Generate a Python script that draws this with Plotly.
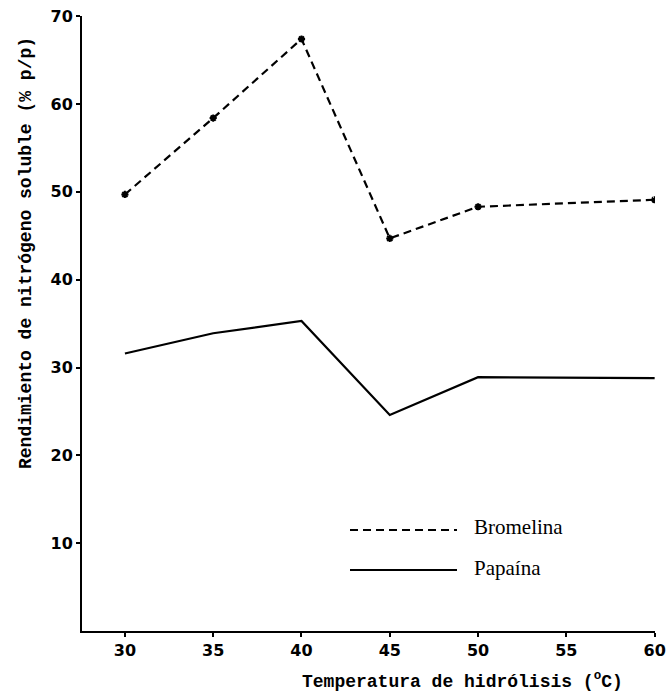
import plotly.graph_objects as go

temperatura = [30, 35, 40, 45, 50, 60]
bromelina = [49.7, 58.4, 67.4, 44.7, 48.3, 49.1]
papaina = [31.6, 33.9, 35.3, 24.6, 28.9, 28.8]
x_ticks = [30, 35, 40, 45, 50, 55, 60]
y_ticks = [10, 20, 30, 40, 50, 60, 70]

W, H = 667, 693
L, R, T, B = 82, 12, 16, 62
pw, ph = W - L - R, H - T - B

def px(x):
    return (x - L) / pw

def py(y):
    return (H - B - y) / ph

fig = go.Figure()
fig.add_trace(go.Scatter(
    x=temperatura, y=bromelina, mode="lines+markers", name="Bromelina",
    line=dict(color="black", width=2.2, dash="8px,5px"),
    marker=dict(symbol="asterisk", size=6, color="black", line=dict(width=2, color="black")),
    showlegend=False))
fig.add_trace(go.Scatter(
    x=temperatura, y=papaina, mode="lines", name="Papaína",
    line=dict(color="black", width=2.2), showlegend=False))

# legend keys
fig.add_shape(type="line", xref="paper", yref="paper", x0=px(350), x1=px(457), y0=py(530), y1=py(530),
              line=dict(color="black", width=2, dash="8px,5px"))
fig.add_shape(type="line", xref="paper", yref="paper", x0=px(350), x1=px(457), y0=py(570), y1=py(570),
              line=dict(color="black", width=2))
fig.add_annotation(xref="paper", yref="paper", x=px(472), y=py(527), text="Bromelina", showarrow=False,
                   xanchor="left", yanchor="middle", font=dict(family="Liberation Serif", size=21, color="black"))
fig.add_annotation(xref="paper", yref="paper", x=px(472), y=py(568), text="Papaína", showarrow=False,
                   xanchor="left", yanchor="middle", font=dict(family="Liberation Serif", size=21, color="black"))

# axis titles
fig.add_annotation(xref="paper", yref="paper", x=px(462), y=py(680), text="Temperatura de hidrólisis (<sup>o</sup>C)",
                   showarrow=False, xanchor="center", yanchor="middle",
                   font=dict(family="Liberation Mono", size=18, color="black", weight="bold"))
fig.add_annotation(xref="paper", yref="paper", x=px(26), y=py(253), text="Rendimiento de nitrógeno soluble (% p/p)",
                   showarrow=False, xanchor="center", yanchor="middle", textangle=-90,
                   font=dict(family="Liberation Mono", size=18, color="black", weight="bold"))

fig.update_xaxes(range=[27.57, 60.02], tickvals=x_ticks, ticktext=[str(v) for v in x_ticks],
                 showline=True, linecolor="black", linewidth=2, ticks="outside", ticklen=4,
                 tickcolor="black", tickwidth=2, showgrid=False, zeroline=False,
                 tickfont=dict(family="DejaVu Sans", size=16, color="black", weight="bold"))
fig.update_yaxes(range=[0, 70.02], tickvals=y_ticks, ticktext=[str(v) for v in y_ticks],
                 showline=True, linecolor="black", linewidth=2, ticks="outside", ticklen=4,
                 tickcolor="black", tickwidth=2, showgrid=False, zeroline=False,
                 tickfont=dict(family="DejaVu Sans", size=16, color="black", weight="bold"))
fig.update_layout(width=W, height=H, margin=dict(l=L, r=R, t=T, b=B, autoexpand=False),
                  paper_bgcolor="white", plot_bgcolor="white")
fig.write_html("out.html", config={"displayModeBar": False},
               post_script="document.body.style.margin='0';document.body.style.overflow='hidden';")
